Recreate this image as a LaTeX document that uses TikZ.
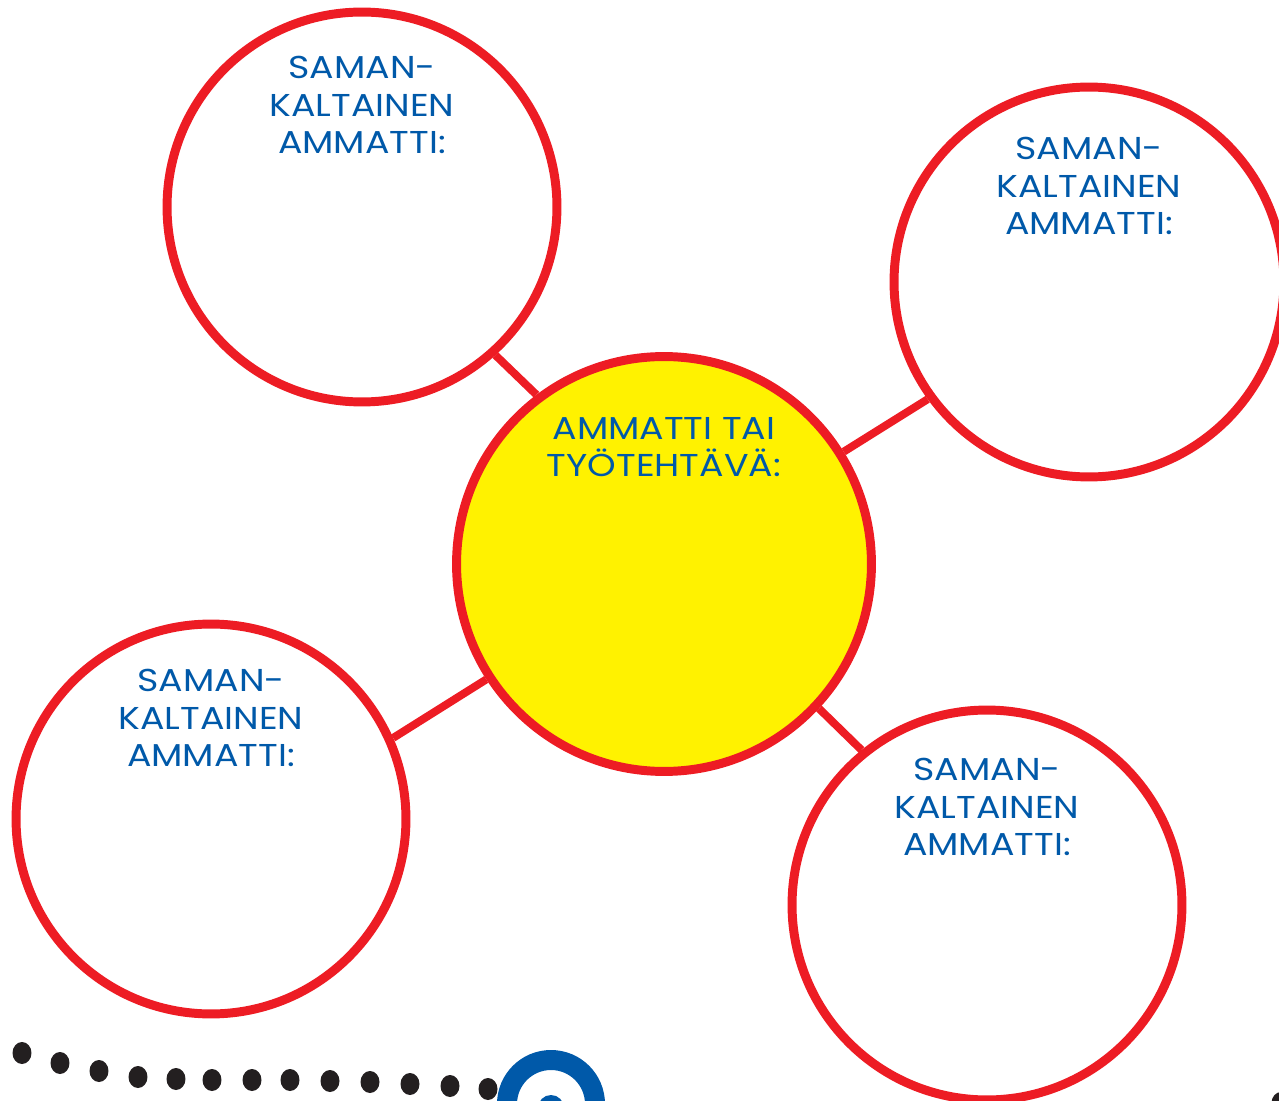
\documentclass[tikz,border=0pt]{standalone}
\usepackage{fontspec}
\setmainfont{Poppins}[FakeStretch=1.15]
\definecolor{ringred}{HTML}{ED1C24}
\definecolor{sunyellow}{HTML}{FFF200}
\definecolor{textblue}{HTML}{0059A9}
\definecolor{dotblack}{HTML}{231F20}
\begin{document}
\begin{tikzpicture}[x=0.02cm, y=-0.02cm, line width=5.1pt, job node/.style={circle,draw=ringred,fill=white,minimum size=7.8cm,inner sep=0pt}, main node/.style={job node,fill=sunyellow,minimum size=8.3cm}, label text/.style={text=textblue,align=center,font=\fontsize{18}{21.5}\selectfont}]
\useasboundingbox (0,0) rectangle (1279,1101);
\clip (0,0) rectangle (1279,1101);
\node[main node] (c) at (664,564) {};
\node[job node] (s1) at (362,207) {};
\node[job node] (s2) at (1089,282) {};
\node[job node] (s3) at (211,819) {};
\node[job node] (s4) at (987,905) {};
\draw[ringred, line width=4.5pt] (c.127) edge (s1.312);
\draw[ringred, line width=4.5pt] (c.32) edge (s2.216);
\draw[ringred, line width=4.5pt] (c.213) edge (s3.24);
\draw[ringred, line width=4.5pt] (c.317) edge (s4.129);
\node[label text] (t0) at (664,447) {AMMATTI TAI\\TYÖTEHTÄVÄ:};
\node[label text] (t1) at (362,105) {SAMAN-\\KALTAINEN\\AMMATTI:};
\node[label text] (t2) at (1089,186) {SAMAN-\\KALTAINEN\\AMMATTI:};
\node[label text] (t3) at (211,718) {SAMAN-\\KALTAINEN\\AMMATTI:};
\node[label text] (t4) at (987,807) {SAMAN-\\KALTAINEN\\AMMATTI:};
\foreach \x/\y in {22/1053,60/1063,99/1071,138/1077,176/1079,212/1080,252/1080,290/1080,330/1081,370/1082,410/1084,450/1086,488/1089,1281/1103}
  \fill[dotblack] (\x,\y) ellipse (0.19cm and 0.22cm);
\draw[textblue, line width=0.4cm] (551,1104) circle (0.88cm);
\fill[textblue] (551,1108) circle (0.26cm);
\end{tikzpicture}
\end{document}
